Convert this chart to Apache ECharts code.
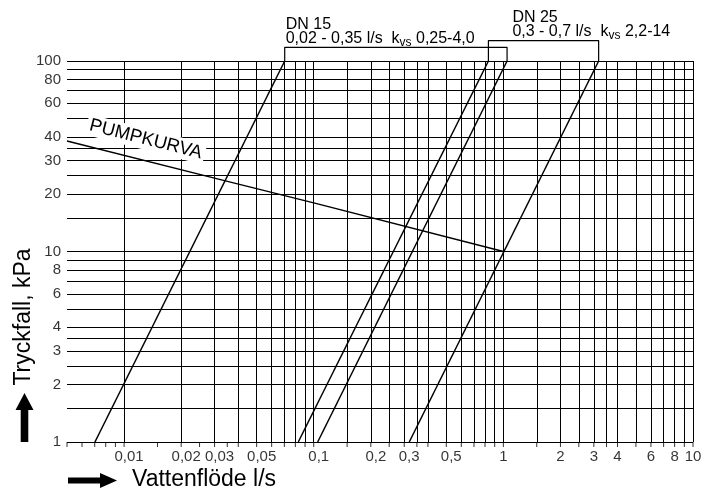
<!DOCTYPE html>
<html>
<head>
<meta charset="utf-8">
<script src="https://cdn.jsdelivr.net/npm/echarts@6/dist/echarts.min.js"></script>
<style>
  html, body { margin: 0; padding: 0; background: #fff; }
  #chart { width: 720px; height: 491px; }
</style>
</head>
<body>
<div id="chart"></div>
<script>
// Flow axis (l/s): grid positions and labelled values
const flowMin = 0.005;
const flowMax = 10;
const flowGrid = [0.005, 0.006, 0.007, 0.008, 0.009, 0.01, 0.015, 0.02, 0.025, 0.03, 0.035, 0.04,
  0.05, 0.06, 0.07, 0.08, 0.09, 0.1, 0.15, 0.2, 0.25, 0.3, 0.35, 0.4, 0.5, 0.6, 0.7, 0.8, 0.9,
  1, 1.5, 2, 2.5, 3, 3.5, 4, 5, 6, 7, 8, 9, 10];
const flowTicks = [0.01, 0.02, 0.03, 0.05, 0.1, 0.2, 0.3, 0.5, 1, 2, 3, 4, 6, 8, 10];

// Pressure drop axis (kPa): grid positions and labelled values
const dropMin = 1;
const dropMax = 100;
const dropGrid = [1, 1.5, 2, 2.5, 3, 3.5, 4, 5, 6, 7, 8, 9, 10, 15, 20, 25, 30, 35, 40, 50,
  60, 70, 80, 90, 100];
const dropTicks = [1, 2, 3, 4, 6, 8, 10, 20, 30, 40, 60, 80, 100];

// Valve characteristics (flow l/s, drop kPa) at 1 kPa and 100 kPa
const dn15Low = [[0.00702, 1], [0.0703, 100]];
const dn25Low = [[0.0829, 1], [0.834, 100]];
const dn15High = [[0.1049, 1], [1.046, 100]];
const dn25High = [[0.319, 1], [3.18, 100]];

// Pump curve
const pumpCurve = [[0.005, 38], [0.033, 23.7], [0.1, 18], [1.0, 10]];

// Bracket heights above the plot (kPa, beyond the axis max)
const dn15BracketLevel = 118;
const dn25BracketLevel = 128;

const FONT = '"Liberation Sans", Arial, Helvetica, sans-serif';
const fmt = v => String(v).replace('.', ',');

const chart = echarts.init(document.getElementById('chart'), null, { renderer: 'canvas' });

const curveStyle = { color: '#000', width: 1.5 };
function curve(data) {
  return {
    type: 'line', data: data, symbol: 'none', silent: true, z: 5,
    lineStyle: curveStyle, animation: false
  };
}
function bracket(left, right, level) {
  const xl = left[left.length - 1][0];
  const xr = right[right.length - 1][0];
  return {
    type: 'line', symbol: 'none', silent: true, clip: false, z: 5, animation: false,
    lineStyle: { color: '#000', width: 1.2 },
    data: [[xl, dropMax], [xl, level], [xr, level], [xr, dropMax]]
  };
}

const option = {
  backgroundColor: '#fff',
  animation: false,
  grid: { left: 67, right: 27, top: 61, bottom: 49 },
  xAxis: {
    type: 'log', logBase: 10, min: flowMin, max: flowMax,
    axisLine: { show: false }, axisTick: { show: false },
    axisLabel: { show: false }, splitLine: { show: false }
  },
  yAxis: {
    type: 'log', logBase: 10, min: dropMin, max: dropMax,
    axisLine: { show: false }, axisTick: { show: false },
    axisLabel: { show: false }, splitLine: { show: false }
  },
  series: [
    // grid lines
    {
      type: 'line', data: [], silent: true, z: 1, animation: false,
      markLine: {
        silent: true, symbol: ['none', 'none'], animation: false,
        label: { show: false },
        lineStyle: { color: '#000', width: 1, type: 'solid' },
        emphasis: { disabled: true },
        data: flowGrid.map(v => ({ xAxis: v })).concat(dropGrid.map(v => ({ yAxis: v })))
      }
    },
    curve(dn15Low),
    curve(dn25Low),
    curve(dn15High),
    curve(dn25High),
    curve(pumpCurve),
    bracket(dn15Low, dn15High, dn15BracketLevel),
    bracket(dn25Low, dn25High, dn25BracketLevel),
    // tick marks under the flow axis
    {
      type: 'scatter', silent: true, clip: false, z: 4, animation: false,
      symbol: 'rect', symbolSize: [1, 5], symbolOffset: [0, 2.5],
      itemStyle: { color: '#000' },
      data: flowGrid.map(v => [v, dropMin])
    },
    // flow labels
    {
      type: 'scatter', silent: true, clip: false, symbolSize: 0, animation: false,
      data: flowTicks.map(v => ({
        value: [v, dropMin],
        label: { offset: [v < 1 ? 5 : 0, 0] }
      })),
      label: {
        show: true, position: 'bottom', distance: 7,
        fontFamily: FONT, fontSize: 15, color: '#000',
        formatter: p => fmt(p.value[0])
      }
    },
    // pressure drop labels
    {
      type: 'scatter', silent: true, clip: false, symbolSize: 0, animation: false,
      data: dropTicks.map(v => [flowMin, v]),
      label: {
        show: true, position: 'left', distance: 6,
        fontFamily: FONT, fontSize: 15, color: '#000',
        formatter: p => fmt(p.value[1])
      }
    }
  ]
};

chart.setOption(option);

// Annotations placed from the axis scales
const px = p => chart.convertToPixel({ gridIndex: 0 }, p);

const b15 = px([dn15Low[1][0], dn15BracketLevel]);
const b25 = px([dn25Low[1][0], dn25BracketLevel]);

const valveRich = {
  a: { fontFamily: FONT, fontSize: 16, lineHeight: 14, color: '#000' },
  s: { fontFamily: FONT, fontSize: 12, lineHeight: 14, color: '#000', verticalAlign: 'bottom', padding: [0, 0, -3, 0] }
};

const p0 = px(pumpCurve[0]);
const p1 = px(pumpCurve[pumpCurve.length - 1]);
const dx = p1[0] - p0[0], dy = p1[1] - p0[1];
const len = Math.hypot(dx, dy);
const ux = dx / len, uy = dy / len;
const lx = p0[0] + ux * 76 + uy * 21;
const ly = p0[1] + uy * 76 - ux * 21;

chart.setOption({
  graphic: [
    {
      type: 'text', x: b15[0] + 1, y: b15[1] - 2, z: 10, silent: true,
      style: {
        text: '{a|DN 15}\n{a|0,02 - 0,35 l/s  k}{s|vs}{a| 0,25-4,0}',
        rich: valveRich, align: 'left', verticalAlign: 'bottom'
      }
    },
    {
      type: 'text', x: b25[0] + 24, y: b25[1] - 2, z: 10, silent: true,
      style: {
        text: '{a|DN 25}\n{a|0,3 - 0,7 l/s  k}{s|vs}{a| 2,2-14}',
        rich: valveRich, align: 'left', verticalAlign: 'bottom'
      }
    },
    {
      type: 'text', x: lx, y: ly, rotation: -Math.atan2(dy, dx), z: 10, silent: true,
      style: {
        text: 'PUMPKURVA', fontFamily: FONT, fontSize: 18.5, fill: '#000',
        align: 'center', verticalAlign: 'middle',
        backgroundColor: '#fff', padding: [1, 3]
      }
    },
    {
      type: 'text', x: 24, y: 317, rotation: Math.PI / 2, silent: true,
      style: {
        text: 'Tryckfall, kPa', fontFamily: FONT, fontSize: 23, fill: '#000',
        align: 'center', verticalAlign: 'middle'
      }
    },
    {
      type: 'text', x: 132, y: 480, silent: true,
      style: {
        text: 'Vattenflöde l/s', fontFamily: FONT, fontSize: 23, fill: '#000',
        align: 'left', verticalAlign: 'middle'
      }
    },
    {
      type: 'polygon', silent: true,
      shape: { points: [[68, 477.5], [100, 477.5], [100, 473], [117, 480.5], [100, 488], [100, 483.5], [68, 483.5]] },
      style: { fill: '#000' }
    },
    {
      type: 'polygon', silent: true,
      shape: { points: [[24.5, 393], [33.5, 410], [28.3, 410], [28.3, 442], [20.7, 442], [20.7, 410], [15.5, 410]] },
      style: { fill: '#000' }
    }
  ]
});
</script>
</body>
</html>
